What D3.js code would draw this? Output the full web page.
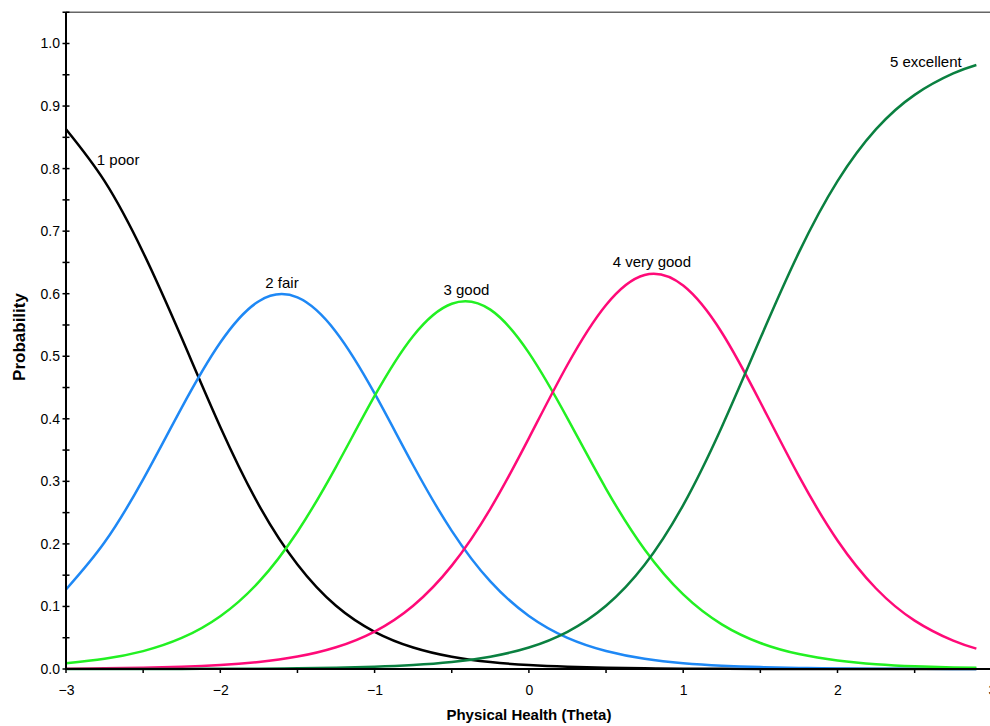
<!DOCTYPE html>
<html>
<head>
<meta charset="utf-8">
<script src="https://cdn.jsdelivr.net/npm/d3@7"></script>
<style>
  html, body { margin: 0; padding: 0; background: #fff; }
  svg { display: block; font-family: "Liberation Sans", Arial, Helvetica, sans-serif; }
</style>
</head>
<body>
<svg id="chart" width="990" height="726"></svg>
<script>
// ---- data ----
const theta = [-3, -2.75, -2.5, -2.25, -2, -1.75, -1.5, -1.25, -1, -0.75, -0.5, -0.25,
               0, 0.25, 0.5, 0.75, 1, 1.25, 1.5, 1.75, 2, 2.25, 2.5, 2.75, 2.9];
const categories = ["1 poor", "2 fair", "3 good", "4 very good", "5 excellent"];
const poor      = [0.863, 0.780, 0.666, 0.529, 0.387, 0.262, 0.167, 0.101, 0.0595, 0.0344, 0.0196, 0.0111,
                   0.0063, 0.0036, 0.0020, 0.0011, 0.0006, 0.0004, 0.0002, 0.0001, 0.0001, 0, 0, 0, 0];
const fair      = [0.1271, 0.2025, 0.3032, 0.4179, 0.5219, 0.5880, 0.5940, 0.5388, 0.4405, 0.3257, 0.2209, 0.1401,
                   0.0848, 0.0498, 0.0288, 0.0164, 0.0093, 0.0053, 0.0030, 0.0017, 0.0010, 0.0005, 0.0003, 0.0002, 0.0001];
const good      = [0.0093, 0.0163, 0.0286, 0.0496, 0.0844, 0.1393, 0.2195, 0.3233, 0.4365, 0.5324, 0.5840, 0.5745,
                   0.5054, 0.4007, 0.2881, 0.1910, 0.1192, 0.0714, 0.0416, 0.0239, 0.0136, 0.0077, 0.0044, 0.0025, 0.0018];
const veryGood  = [0.0006, 0.0011, 0.0020, 0.0036, 0.0064, 0.0113, 0.0199, 0.0348, 0.0599, 0.1012, 0.1653, 0.2561,
                   0.3691, 0.4864, 0.5820, 0.6300, 0.6130, 0.5380, 0.4265, 0.3083, 0.2055, 0.1287, 0.0774, 0.0453, 0.0325];
const excellent = [0.0000, 0.0001, 0.0001, 0.0002, 0.0004, 0.0006, 0.0011, 0.0020, 0.0036, 0.0063, 0.0111, 0.0197,
                   0.0344, 0.0595, 0.1011, 0.1666, 0.2621, 0.3870, 0.5287, 0.6660, 0.7799, 0.8630, 0.9179, 0.9521, 0.9656];
const xTickLabels = [-3, -2, -1, 0, 1, 2, 3];
const yTickLabels = [0, 0.1, 0.2, 0.3, 0.4, 0.5, 0.6, 0.7, 0.8, 0.9, 1.0];
const xMinorTicks = [-3, -2.5, -2, -1.5, -1, -0.5, 0, 0.5, 1, 1.5, 2, 2.5, 3];
const yMinorTicks = [0, 0.05, 0.1, 0.15, 0.2, 0.25, 0.3, 0.35, 0.4, 0.45, 0.5, 0.55, 0.6, 0.65, 0.7, 0.75, 0.8, 0.85, 0.9, 0.95, 1.0, 1.05];

// ---- layout ----
const series = [poor, fair, good, veryGood, excellent];
const colors = ["#000000", "#1e88f5", "#22f022", "#ff0a78", "#0a8040"];
// label anchors in data coordinates [theta, prob, anchor]
const labelAnchors = [[-2.80, 0.805, "start"], [-1.60, 0.609, "middle"], [-0.405, 0.598, "middle"],
                      [0.797, 0.642, "middle"], [2.34, 0.963, "start"]];

const svg = d3.select("#chart");
const x = d3.scaleLinear().domain([-3, 3]).range([66, 991.8]);
const y = d3.scaleLinear().domain([0, 1]).range([669, 43.5]);

// top frame line
svg.append("line").attr("x1", x(-3)).attr("x2", 990).attr("y1", y(1.05)).attr("y2", y(1.05))
   .attr("stroke", "#666").attr("stroke-width", 1.5);

// curves
const line = d3.line().x((d, i) => x(theta[i])).y(d => y(d)).curve(d3.curveNatural);
series.forEach((s, k) => {
  svg.append("path").datum(s).attr("d", line).attr("fill", "none")
     .attr("stroke", colors[k]).attr("stroke-width", 2.5).attr("stroke-linejoin", "round");
});

// axes
const xAxis = d3.axisBottom(x).tickValues(xTickLabels).tickSize(0).tickPadding(16).tickFormat(d3.format("d"));
const gx = svg.append("g").attr("transform", `translate(0,${y(0)})`).call(xAxis);
gx.select(".domain").remove();
gx.selectAll("text").attr("font-size", 14).attr("fill", "#000").attr("font-family", "Liberation Sans, Arial, sans-serif");

const yAxis = d3.axisLeft(y).tickValues(yTickLabels).tickSize(0).tickPadding(6).tickFormat(d3.format(".1f"));
const gy = svg.append("g").attr("transform", `translate(${x(-3)},0)`).call(yAxis);
gy.select(".domain").remove();
gy.selectAll("text").attr("font-size", 14).attr("fill", "#000").attr("font-family", "Liberation Sans, Arial, sans-serif");

// axis lines
svg.append("line").attr("x1", x(-3)).attr("x2", 990).attr("y1", y(0)).attr("y2", y(0))
   .attr("stroke", "#000").attr("stroke-width", 2);
svg.append("line").attr("x1", x(-3)).attr("x2", x(-3)).attr("y1", y(1.05)).attr("y2", y(0) + 1)
   .attr("stroke", "#000").attr("stroke-width", 2);

// tick marks
svg.append("g").selectAll("line").data(xMinorTicks).join("line")
   .attr("x1", d => x(d)).attr("x2", d => x(d)).attr("y1", y(0) - 1).attr("y2", y(0) + 4)
   .attr("stroke", "#000").attr("stroke-width", 1.5);
svg.append("g").selectAll("line").data(yMinorTicks).join("line")
   .attr("x1", x(-3) - 3.5).attr("x2", x(-3) + 3.5).attr("y1", d => y(d)).attr("y2", d => y(d))
   .attr("stroke", "#000").attr("stroke-width", 1.5);

// curve labels
categories.forEach((c, k) => {
  const a = labelAnchors[k];
  svg.append("text").attr("x", x(a[0])).attr("y", y(a[1])).attr("text-anchor", a[2])
     .attr("font-size", 15).attr("fill", "#000").text(c);
});

// axis titles
svg.append("text").attr("x", x(0)).attr("y", 720).attr("text-anchor", "middle")
   .attr("font-size", 15).attr("font-weight", "bold").text("Physical Health (Theta)");
svg.append("text").attr("transform", "translate(25,337) rotate(-90)").attr("text-anchor", "middle")
   .attr("font-size", 17).attr("font-weight", "bold").text("Probability");
</script>
</body>
</html>
